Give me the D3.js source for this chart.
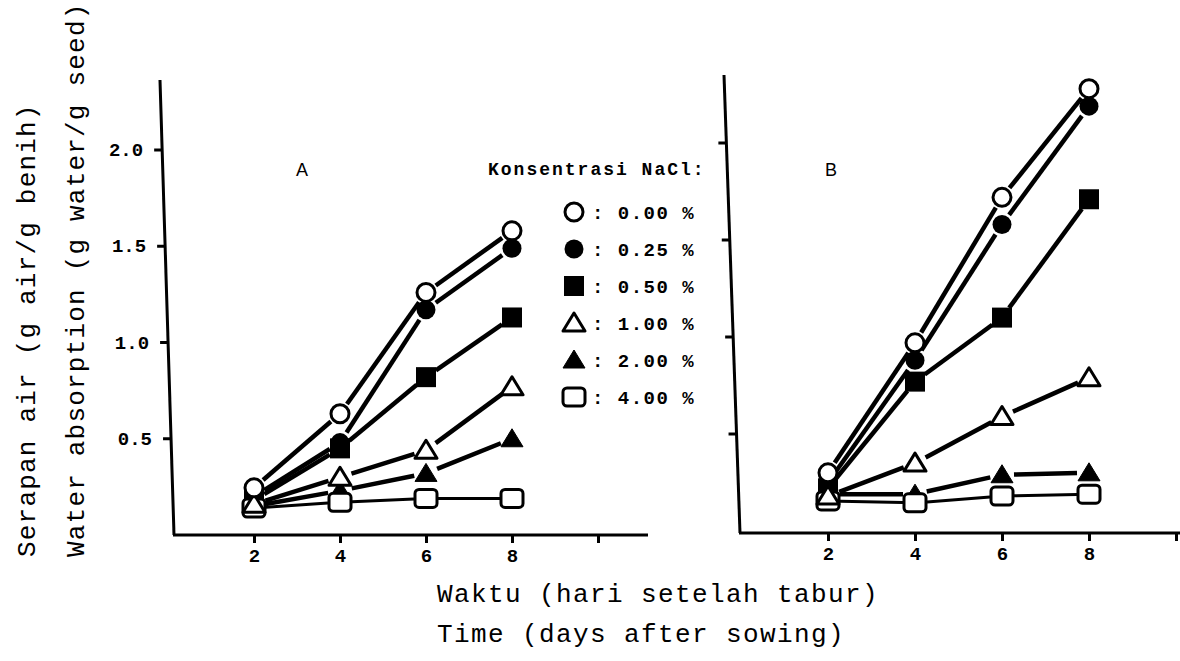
<!DOCTYPE html>
<html>
<head>
<meta charset="utf-8">
<script src="https://cdn.jsdelivr.net/npm/d3@7"></script>
<style>
  html, body { margin: 0; padding: 0; background: #fff; }
  svg { display: block; }
  text { font-family: "Liberation Mono", "DejaVu Sans Mono", monospace; fill: #000; }
</style>
</head>
<body>
<svg id="chart" width="1180" height="661"></svg>
<script>
// sampling days and axis ticks
const days = [2, 4, 6, 8];
const xTicks = [2, 4, 6, 8, 10];
const yTicks = [0.5, 1.0, 1.5, 2.0];
const yTickLabels = ["0.5", "1.0", "1.5", "2.0"];

// NaCl concentrations (legend)
const concLabels = ["0.00 %", "0.25 %", "0.50 %", "1.00 %", "2.00 %", "4.00 %"];
const concSymbols = ["circleOpen", "circle", "square", "triangleOpen", "triangle", "squareOpen"];

// Panel A: water absorption (g water / g seed)
const a000 = [0.245, 0.63, 1.26, 1.58];
const a025 = [0.20, 0.48, 1.17, 1.49];
const a050 = [0.18, 0.45, 0.82, 1.13];
const a100 = [0.16, 0.30, 0.44, 0.77];
const a200 = [0.15, 0.23, 0.32, 0.50];
const a400 = [0.14, 0.17, 0.19, 0.19];

// Panel B
const b000 = [0.30, 0.97, 1.72, 2.28];
const b025 = [0.25, 0.88, 1.58, 2.19];
const b050 = [0.22, 0.77, 1.10, 1.71];
const b100 = [0.18, 0.35, 0.59, 0.79];
const b200 = [0.19, 0.19, 0.29, 0.30];
const b400 = [0.155, 0.145, 0.18, 0.19];

const svg = d3.select("#chart");

function marker(g, type) {
    if (type === "circleOpen") {
        g.append("circle").attr("r", 9)
            .attr("fill", "#fff").attr("stroke", "#000").attr("stroke-width", 3);
    } else if (type === "circle") {
        g.append("circle").attr("r", 9.5).attr("fill", "#000");
    } else if (type === "square") {
        g.append("rect").attr("x", -10).attr("y", -10)
            .attr("width", 20).attr("height", 20).attr("fill", "#000");
    } else if (type === "squareOpen") {
        g.append("rect").attr("x", -11).attr("y", -9)
            .attr("width", 22).attr("height", 18).attr("rx", 4)
            .attr("fill", "#fff").attr("stroke", "#000").attr("stroke-width", 3);
    } else {
        const h = 10;
        const path = `M0,${-h}L${h * 1.1},${h * 0.8}L${-h * 1.1},${h * 0.8}Z`;
        g.append("path").attr("d", path)
            .attr("fill", type === "triangle" ? "#000" : "#fff")
            .attr("stroke", "#000").attr("stroke-width", type === "triangle" ? 1 : 3)
            .attr("stroke-linejoin", "round");
    }
}

function drawPanel(cfg) {
    const x = d3.scaleLinear().domain([2, 10]).range(cfg.xRange);
    const y = d3.scaleLinear().domain([0, 2]).range(cfg.yRange);
    const g = svg.append("g");

    // slanted y axis line (the scan is a bit tilted)
    const [top, bot] = cfg.yAxis;
    const slantX = py => top[0] + (bot[0] - top[0]) * (py - top[1]) / (bot[1] - top[1]);
    g.append("line")
        .attr("x1", top[0]).attr("y1", top[1])
        .attr("x2", bot[0]).attr("y2", bot[1])
        .attr("stroke", "#000").attr("stroke-width", 3);

    const yAxis = g.append("g")
        .call(d3.axisLeft(y).tickValues(yTicks).tickSize(8)
            .tickFormat((d, i) => cfg.yLabels ? yTickLabels[i] : ""));
    yAxis.select(".domain").remove();
    yAxis.selectAll(".tick").attr("transform", d => `translate(${slantX(y(d))},${y(d)})`);
    yAxis.selectAll(".tick line").attr("stroke", "#000").attr("stroke-width", 3);
    yAxis.selectAll(".tick text")
        .attr("x", -19)
        .style("font-size", "19px").style("font-weight", "bold");

    // x axis
    g.append("line")
        .attr("x1", cfg.xAxis[0]).attr("y1", cfg.xAxisY)
        .attr("x2", cfg.xAxis[1]).attr("y2", cfg.xAxisY)
        .attr("stroke", "#000").attr("stroke-width", 3);
    const xAxis = g.append("g")
        .attr("transform", `translate(0,${cfg.xAxisY})`)
        .call(d3.axisBottom(x).tickValues(xTicks).tickSize(8)
            .tickFormat(d => d === 10 ? "" : d));
    xAxis.select(".domain").remove();
    xAxis.selectAll(".tick line").attr("stroke", "#000").attr("stroke-width", 3);
    xAxis.selectAll(".tick text")
        .attr("y", 14)
        .style("font-size", "19px").style("font-weight", "bold");

    // panel letter
    g.append("text")
        .attr("x", cfg.letterPos[0]).attr("y", cfg.letterPos[1])
        .attr("text-anchor", "middle")
        .style("font-size", "18px").style("font-family", "Liberation Sans")
        .text(cfg.letter);

    // lines, with small gaps next to the markers
    const gap = 12;
    cfg.series.forEach((vals, si) => {
        const pts = vals.map((v, i) => [x(days[i]), y(v)]);
        for (let i = 0; i < pts.length - 1; i++) {
            const [x1, y1] = pts[i];
            const [x2, y2] = pts[i + 1];
            const len = Math.hypot(x2 - x1, y2 - y1);
            const ux = (x2 - x1) / len, uy = (y2 - y1) / len;
            g.append("line")
                .attr("x1", x1 + ux * gap).attr("y1", y1 + uy * gap)
                .attr("x2", x2 - ux * gap).attr("y2", y2 - uy * gap)
                .attr("stroke", "#000")
                .attr("stroke-width", si === 5 ? 3 : 4.5);
        }
    });

    // markers, open ones last so they stay on top
    const order = [1, 2, 4, 5, 3, 0];
    order.forEach(si => {
        cfg.series[si].forEach((v, i) => {
            const m = g.append("g").attr("transform", `translate(${x(days[i])},${y(v)})`);
            marker(m, concSymbols[si]);
        });
    });
}

drawPanel({
    xRange: [254, 598],
    yRange: [535, 150],
    yAxis: [[160, 80], [174, 535]],
    xAxis: [173, 648],
    xAxisY: 535,
    yLabels: true,
    letter: "A",
    letterPos: [302, 176],
    series: [a000, a025, a050, a100, a200, a400]
});

drawPanel({
    xRange: [828, 1176],
    yRange: [531, 143],
    yAxis: [[724, 75], [740, 533]],
    xAxis: [739, 1180],
    xAxisY: 533,
    yLabels: false,
    letter: "B",
    letterPos: [831, 176],
    series: [b000, b025, b050, b100, b200, b400]
});

// legend
const legend = svg.append("g").attr("transform", "translate(488,0)");
legend.append("text")
    .attr("x", 0).attr("y", 175)
    .style("font-size", "18px").style("font-weight", "bold")
    .style("letter-spacing", "2px")
    .text("Konsentrasi NaCl:");
concLabels.forEach((lab, i) => {
    const yy = 212 + i * 37;
    const m = legend.append("g").attr("transform", `translate(86,${yy})`);
    marker(m, concSymbols[i]);
    legend.append("text")
        .attr("x", 104).attr("y", yy).attr("dy", "0.35em")
        .style("font-size", "19px").style("font-weight", "bold")
        .style("letter-spacing", "1.5px")
        .text(": " + lab);
});

// axis titles
const titleSize = "26px";
const titleSpacing = "1.2px";
svg.append("text")
    .attr("transform", "translate(35,557) rotate(-90)")
    .style("font-size", titleSize).style("letter-spacing", titleSpacing)
    .text("Serapan air (g air/g benih)");
svg.append("text")
    .attr("transform", "translate(84,557) rotate(-90)")
    .style("font-size", titleSize).style("letter-spacing", titleSpacing)
    .text("Water absorption (g water/g seed)");

svg.append("text")
    .attr("x", 437).attr("y", 602)
    .style("font-size", titleSize).style("letter-spacing", "1.4px")
    .text("Waktu (hari setelah tabur)");
svg.append("text")
    .attr("x", 437).attr("y", 642)
    .style("font-size", titleSize).style("letter-spacing", "1.4px")
    .text("Time (days after sowing)");
</script>
</body>
</html>
